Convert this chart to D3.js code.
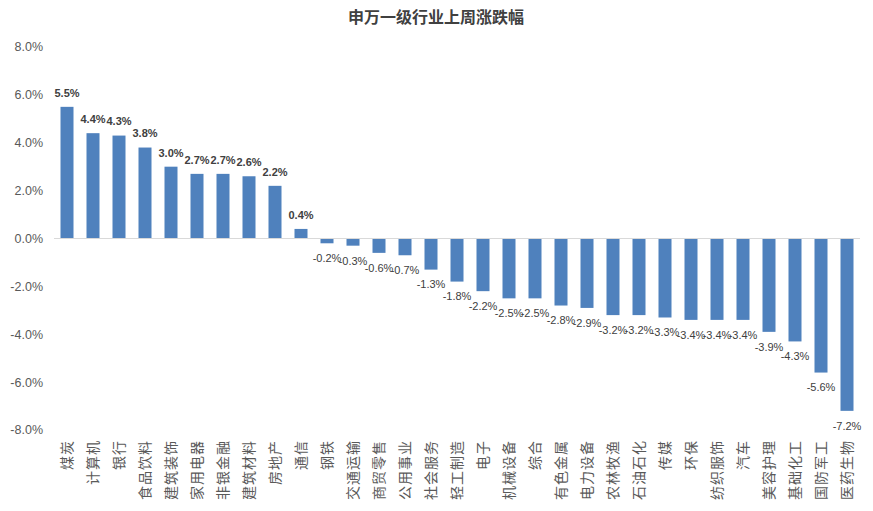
<!DOCTYPE html>
<html><head><meta charset="utf-8">
<script src="https://cdn.jsdelivr.net/npm/d3@7"></script>
<style>body{margin:0;background:#fff;} svg{display:block;font-family:"Liberation Sans",Arial,sans-serif;}</style>
</head><body>
<svg id="c" width="873" height="511"></svg>
<script>
const categories = ["煤炭","计算机","银行","食品饮料","建筑装饰","家用电器","非银金融","建筑材料","房地产","通信","钢铁","交通运输","商贸零售","公用事业","社会服务","轻工制造","电子","机械设备","综合","有色金属","电力设备","农林牧渔","石油石化","传媒","环保","纺织服饰","汽车","美容护理","基础化工","国防军工","医药生物"];
const values = [5.5,4.4,4.3,3.8,3.0,2.7,2.7,2.6,2.2,0.4,-0.2,-0.3,-0.6,-0.7,-1.3,-1.8,-2.2,-2.5,-2.5,-2.8,-2.9,-3.2,-3.2,-3.3,-3.4,-3.4,-3.4,-3.9,-4.3,-5.6,-7.2];
const yTicks = [8,6,4,2,0,-2,-4,-6,-8];
const title = "申万一级行业上周涨跌幅";

const fmt = d => d.toFixed(1) + "%";
const svg = d3.select("#c");
const x = d3.scaleBand().domain(categories).range([54, 860]).paddingInner(0.5).paddingOuter(0.25);
const y = d3.scaleLinear().domain([-8, 8]).range([430, 47]);

svg.append("text").attr("x", 436).attr("y", 23).attr("text-anchor", "middle")
  .attr("font-size", 16).attr("font-weight", "bold").attr("fill", "#404040")
  .attr("font-family", "'Noto Sans CJK SC',sans-serif").text(title);

svg.append("g").selectAll("text").data(yTicks).join("text")
  .attr("x", 43).attr("y", d => y(d)).attr("dy", "0.35em").attr("text-anchor", "end")
  .attr("font-size", 12.5).attr("fill", "#595959").text(fmt);

svg.append("g").selectAll("rect").data(values).join("rect")
  .attr("x", (d, i) => x(categories[i])).attr("width", x.bandwidth())
  .attr("y", d => y(Math.max(0, d))).attr("height", d => Math.abs(y(d) - y(0)))
  .attr("fill", "#4f81bd");

svg.append("line").attr("x1", 54).attr("x2", 860).attr("y1", y(0)).attr("y2", y(0))
  .attr("stroke", "#d9d9d9").attr("stroke-width", 1);

svg.append("g").selectAll("text").data(values).join("text")
  .attr("x", (d, i) => x(categories[i]) + x.bandwidth() / 2)
  .attr("y", d => d >= 0 ? y(d) - 14 : y(d) + 15)
  .attr("dy", "0.35em").attr("text-anchor", "middle")
  .attr("font-size", 11).attr("font-weight", d => d >= 0 ? "bold" : "normal")
  .attr("fill", "#404040").text(fmt);

svg.append("g").selectAll("text").data(categories).join("text")
  .attr("transform", d => `translate(${x(d) + x.bandwidth() / 2},440) rotate(-90)`)
  .attr("text-anchor", "end").attr("dy", "0.35em")
  .attr("font-size", 14).attr("letter-spacing", 1).attr("fill", "#595959")
  .attr("font-family", "'Noto Sans CJK SC',sans-serif").text(d => d);
</script>
</body></html>
